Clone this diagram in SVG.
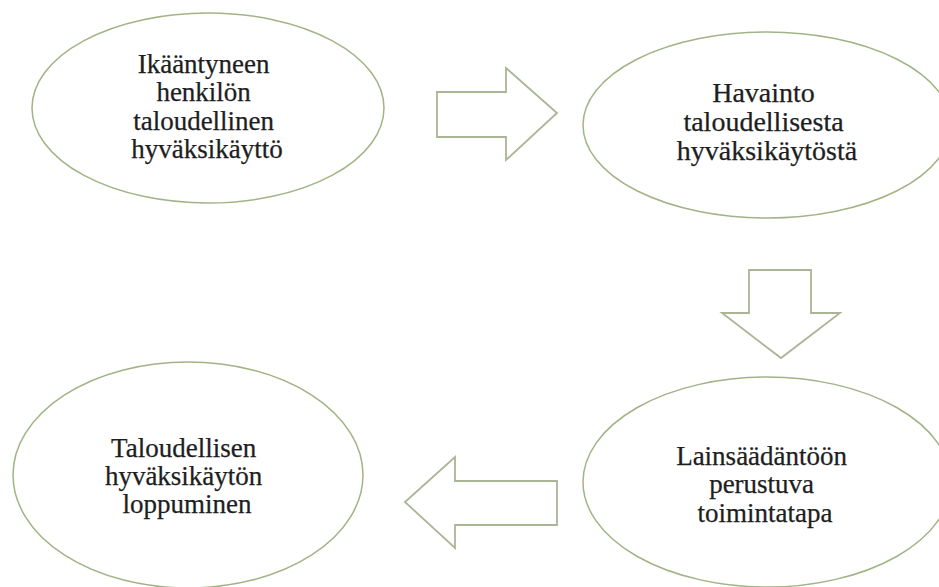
<svg xmlns="http://www.w3.org/2000/svg" width="939" height="587" viewBox="0 0 939 587">
  <style>
    .node { fill: #ffffff; stroke: #a2b386; stroke-width: 1.5; }
    .arrow { fill: #ffffff; stroke: #aab596; stroke-width: 1.8; stroke-linejoin: miter; }
    .label { font-family: "Liberation Serif", "Times New Roman", serif; fill: #1e1e1e; stroke: #1e1e1e; stroke-width: 0.25; text-anchor: middle; }
  </style>
  <rect x="0" y="0" width="939" height="587" fill="#ffffff"/>
  <g id="connectors">
    <polygon class="arrow" points="437,92 506,92 506,68 557,113 506,160 506,137 437,137"/>
    <polygon class="arrow" points="749,270 811,270 811,313 840,313 781,358 722,313 749,313"/>
    <polygon class="arrow" points="557,481 455,481 455,457 405,502 455,548 455,525 557,525"/>
  </g>
  <g id="node-1">
    <ellipse class="node" cx="208" cy="108" rx="176" ry="95"/>
    <text class="label" font-size="27" x="207">
      <tspan x="207" y="73">Ikääntyneen</tspan>
      <tspan x="207" y="101">henkilön</tspan>
      <tspan x="207" y="130">taloudellinen</tspan>
      <tspan x="207" y="158">hyväksikäyttö</tspan>
    </text>
  </g>
  <g id="node-2">
    <ellipse class="node" cx="767" cy="125" rx="184" ry="93"/>
    <text class="label" font-size="28" x="767">
      <tspan x="767" y="102">Havainto</tspan>
      <tspan x="767" y="131">taloudellisesta</tspan>
      <tspan x="767" y="160">hyväksikäytöstä</tspan>
    </text>
  </g>
  <g id="node-3">
    <ellipse class="node" cx="767" cy="482" rx="184" ry="105"/>
    <text class="label" font-size="27" x="765">
      <tspan x="765" y="465">Lainsäädäntöön</tspan>
      <tspan x="765" y="493">perustuva</tspan>
      <tspan x="765" y="522">toimintatapa</tspan>
    </text>
  </g>
  <g id="node-4">
    <ellipse class="node" cx="188" cy="475" rx="175" ry="113"/>
    <text class="label" font-size="27" x="187">
      <tspan x="187" y="457">Taloudellisen</tspan>
      <tspan x="187" y="485">hyväksikäytön</tspan>
      <tspan x="187" y="513">loppuminen</tspan>
    </text>
  </g>
</svg>
